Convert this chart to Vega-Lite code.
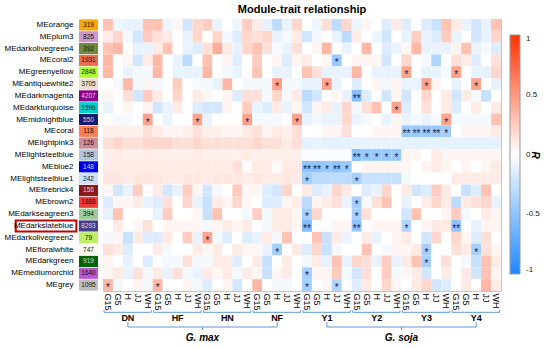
{
"$schema":"https://vega.github.io/schema/vega-lite/v6.json",
"padding":{"left":4,"top":3,"right":0,"bottom":0},
"config":{"font":"Liberation Sans","view":{"stroke":null}},
"datasets":{
"modules":[
{"m":"orange","n":"319"},{"m":"plum3","n":"825"},{"m":"darkolivegreen4","n":"392"},{"m":"coral2","n":"1931"},{"m":"greenyellow","n":"2848"},{"m":"antiquewhite2","n":"3705"},{"m":"darkmagenta","n":"4207"},{"m":"darkturquoise","n":"1596"},{"m":"midnightblue","n":"550"},{"m":"coral","n":"118"},{"m":"lightpink3","n":"126"},{"m":"lightsteelblue","n":"158"},{"m":"blue2","n":"148"},{"m":"lightsteelblue1","n":"242"},{"m":"firebrick4","n":"156"},{"m":"brown2","n":"1888"},{"m":"darkseagreen3","n":"394"},{"m":"darkslateblue","n":"8293"},{"m":"darkolivegreen2","n":"79"},{"m":"floralwhite","n":"747"},{"m":"darkgreen","n":"919"},{"m":"mediumorchid","n":"1640"},{"m":"grey","n":"1095"}],
"groups":[
{"g":"DN","first":"DN G15","mid":"DN H","last":"DN WH"},{"g":"HF","first":"HF G15","mid":"HF H","last":"HF WH"},{"g":"HN","first":"HN G15","mid":"HN H","last":"HN WH"},{"g":"NF","first":"NF G15","mid":"NF H","last":"NF WH"},{"g":"Y1","first":"Y1 G15","mid":"Y1 H","last":"Y1 WH"},{"g":"Y2","first":"Y2 G15","mid":"Y2 H","last":"Y2 WH"},{"g":"Y3","first":"Y3 G15","mid":"Y3 H","last":"Y3 WH"},{"g":"Y4","first":"Y4 G15","mid":"Y4 H","last":"Y4 WH"}],
"species":[{"sp":"G. max","first":"DN H","mid":"HN G15","last":"NF H"},{"sp":"G. soja","first":"Y1 H","mid":"Y3 G15","last":"Y4 H"}],
"cells":[
{"m":"orange","c":"DN G15","r":0.3},{"m":"orange","c":"DN G5","r":-0.08},{"m":"orange","c":"DN H","r":-0.1},{"m":"orange","c":"DN JJ","r":-0.1},{"m":"orange","c":"DN WH","r":0.3},
{"m":"orange","c":"HF G15","r":0.3},{"m":"orange","c":"HF G5","r":-0.08},{"m":"orange","c":"HF H","r":0.05},{"m":"orange","c":"HF JJ","r":-0.2},{"m":"orange","c":"HF WH","r":0.2},
{"m":"orange","c":"HN G15","r":0.25},{"m":"orange","c":"HN G5","r":-0.1},{"m":"orange","c":"HN H","r":0},{"m":"orange","c":"HN JJ","r":-0.08},{"m":"orange","c":"HN WH","r":0.25},
{"m":"orange","c":"NF G15","r":0.1},{"m":"orange","c":"NF G5","r":-0.1},{"m":"orange","c":"NF H","r":-0.3},{"m":"orange","c":"NF JJ","r":-0.1},{"m":"orange","c":"NF WH","r":0.2},
{"m":"orange","c":"Y1 G15","r":0},{"m":"orange","c":"Y1 G5","r":-0.08},{"m":"orange","c":"Y1 H","r":0.15},{"m":"orange","c":"Y1 JJ","r":-0.3},{"m":"orange","c":"Y1 WH","r":0.2},
{"m":"orange","c":"Y2 G15","r":-0.08},{"m":"orange","c":"Y2 G5","r":0.05},{"m":"orange","c":"Y2 H","r":0},{"m":"orange","c":"Y2 JJ","r":-0.15},{"m":"orange","c":"Y2 WH","r":0.1},
{"m":"orange","c":"Y3 G15","r":-0.15},{"m":"orange","c":"Y3 G5","r":0},{"m":"orange","c":"Y3 H","r":-0.15},{"m":"orange","c":"Y3 JJ","r":-0.25},{"m":"orange","c":"Y3 WH","r":0.3},
{"m":"orange","c":"Y4 G15","r":0.1},{"m":"orange","c":"Y4 G5","r":-0.1},{"m":"orange","c":"Y4 H","r":-0.2},{"m":"orange","c":"Y4 JJ","r":-0.1},{"m":"orange","c":"Y4 WH","r":0.3},
{"m":"plum3","c":"DN G15","r":0.1},{"m":"plum3","c":"DN G5","r":0.2},{"m":"plum3","c":"DN H","r":-0.05},{"m":"plum3","c":"DN JJ","r":-0.2},{"m":"plum3","c":"DN WH","r":0.25},
{"m":"plum3","c":"HF G15","r":0.15},{"m":"plum3","c":"HF G5","r":0.1},{"m":"plum3","c":"HF H","r":0},{"m":"plum3","c":"HF JJ","r":-0.1},{"m":"plum3","c":"HF WH","r":0.2},
{"m":"plum3","c":"HN G15","r":0},{"m":"plum3","c":"HN G5","r":0.2},{"m":"plum3","c":"HN H","r":-0.05},{"m":"plum3","c":"HN JJ","r":-0.15},{"m":"plum3","c":"HN WH","r":0.2},
{"m":"plum3","c":"NF G15","r":0.15},{"m":"plum3","c":"NF G5","r":0.2},{"m":"plum3","c":"NF H","r":-0.1},{"m":"plum3","c":"NF JJ","r":-0.05},{"m":"plum3","c":"NF WH","r":0.1},
{"m":"plum3","c":"Y1 G15","r":-0.2},{"m":"plum3","c":"Y1 G5","r":-0.05},{"m":"plum3","c":"Y1 H","r":0},{"m":"plum3","c":"Y1 JJ","r":-0.1},{"m":"plum3","c":"Y1 WH","r":-0.3},
{"m":"plum3","c":"Y2 G15","r":0.1},{"m":"plum3","c":"Y2 G5","r":0},{"m":"plum3","c":"Y2 H","r":-0.08},{"m":"plum3","c":"Y2 JJ","r":-0.2},{"m":"plum3","c":"Y2 WH","r":0},
{"m":"plum3","c":"Y3 G15","r":-0.1},{"m":"plum3","c":"Y3 G5","r":0.25},{"m":"plum3","c":"Y3 H","r":-0.1},{"m":"plum3","c":"Y3 JJ","r":-0.15},{"m":"plum3","c":"Y3 WH","r":0.25},
{"m":"plum3","c":"Y4 G15","r":-0.1},{"m":"plum3","c":"Y4 G5","r":0},{"m":"plum3","c":"Y4 H","r":-0.2},{"m":"plum3","c":"Y4 JJ","r":-0.1},{"m":"plum3","c":"Y4 WH","r":0.2},
{"m":"darkolivegreen4","c":"DN G15","r":0.3},{"m":"darkolivegreen4","c":"DN G5","r":0.35},{"m":"darkolivegreen4","c":"DN H","r":0},{"m":"darkolivegreen4","c":"DN JJ","r":-0.1},{"m":"darkolivegreen4","c":"DN WH","r":-0.1},
{"m":"darkolivegreen4","c":"HF G15","r":0.1},{"m":"darkolivegreen4","c":"HF G5","r":0.3},{"m":"darkolivegreen4","c":"HF H","r":0},{"m":"darkolivegreen4","c":"HF JJ","r":-0.1},{"m":"darkolivegreen4","c":"HF WH","r":-0.15},
{"m":"darkolivegreen4","c":"HN G15","r":0.15},{"m":"darkolivegreen4","c":"HN G5","r":0.4},{"m":"darkolivegreen4","c":"HN H","r":0.1},{"m":"darkolivegreen4","c":"HN JJ","r":-0.1},{"m":"darkolivegreen4","c":"HN WH","r":0.2},
{"m":"darkolivegreen4","c":"NF G15","r":0.3},{"m":"darkolivegreen4","c":"NF G5","r":0.15},{"m":"darkolivegreen4","c":"NF H","r":-0.05},{"m":"darkolivegreen4","c":"NF JJ","r":-0.1},{"m":"darkolivegreen4","c":"NF WH","r":0.15},
{"m":"darkolivegreen4","c":"Y1 G15","r":0},{"m":"darkolivegreen4","c":"Y1 G5","r":0.05},{"m":"darkolivegreen4","c":"Y1 H","r":0.35},{"m":"darkolivegreen4","c":"Y1 JJ","r":0},{"m":"darkolivegreen4","c":"Y1 WH","r":-0.1},
{"m":"darkolivegreen4","c":"Y2 G15","r":0},{"m":"darkolivegreen4","c":"Y2 G5","r":0.35},{"m":"darkolivegreen4","c":"Y2 H","r":0},{"m":"darkolivegreen4","c":"Y2 JJ","r":-0.15},{"m":"darkolivegreen4","c":"Y2 WH","r":-0.1},
{"m":"darkolivegreen4","c":"Y3 G15","r":0.05},{"m":"darkolivegreen4","c":"Y3 G5","r":0.35},{"m":"darkolivegreen4","c":"Y3 H","r":-0.1},{"m":"darkolivegreen4","c":"Y3 JJ","r":-0.1},{"m":"darkolivegreen4","c":"Y3 WH","r":-0.1},
{"m":"darkolivegreen4","c":"Y4 G15","r":0.05},{"m":"darkolivegreen4","c":"Y4 G5","r":0.3},{"m":"darkolivegreen4","c":"Y4 H","r":-0.1},{"m":"darkolivegreen4","c":"Y4 JJ","r":-0.05},{"m":"darkolivegreen4","c":"Y4 WH","r":-0.15},
{"m":"coral2","c":"DN G15","r":0.35},{"m":"coral2","c":"DN G5","r":0},{"m":"coral2","c":"DN H","r":0.05},{"m":"coral2","c":"DN JJ","r":-0.2},{"m":"coral2","c":"DN WH","r":0.1},
{"m":"coral2","c":"HF G15","r":0.35},{"m":"coral2","c":"HF G5","r":0},{"m":"coral2","c":"HF H","r":-0.1},{"m":"coral2","c":"HF JJ","r":-0.3},{"m":"coral2","c":"HF WH","r":0},
{"m":"coral2","c":"HN G15","r":0.3},{"m":"coral2","c":"HN G5","r":0},{"m":"coral2","c":"HN H","r":0.05},{"m":"coral2","c":"HN JJ","r":-0.15},{"m":"coral2","c":"HN WH","r":0},
{"m":"coral2","c":"NF G15","r":0.25},{"m":"coral2","c":"NF G5","r":0},{"m":"coral2","c":"NF H","r":0.05},{"m":"coral2","c":"NF JJ","r":-0.15},{"m":"coral2","c":"NF WH","r":0.05},
{"m":"coral2","c":"Y1 G15","r":0.1},{"m":"coral2","c":"Y1 G5","r":0},{"m":"coral2","c":"Y1 H","r":0.05},{"m":"coral2","c":"Y1 JJ","r":-0.45,"s":"*"},{"m":"coral2","c":"Y1 WH","r":0},
{"m":"coral2","c":"Y2 G15","r":0.05},{"m":"coral2","c":"Y2 G5","r":0.05},{"m":"coral2","c":"Y2 H","r":0.05},{"m":"coral2","c":"Y2 JJ","r":-0.2},{"m":"coral2","c":"Y2 WH","r":0},
{"m":"coral2","c":"Y3 G15","r":0.2},{"m":"coral2","c":"Y3 G5","r":0},{"m":"coral2","c":"Y3 H","r":-0.05},{"m":"coral2","c":"Y3 JJ","r":-0.35},{"m":"coral2","c":"Y3 WH","r":0},
{"m":"coral2","c":"Y4 G15","r":0.15},{"m":"coral2","c":"Y4 G5","r":0.1},{"m":"coral2","c":"Y4 H","r":-0.15},{"m":"coral2","c":"Y4 JJ","r":0},{"m":"coral2","c":"Y4 WH","r":0.15},
{"m":"greenyellow","c":"DN G15","r":0.35},{"m":"greenyellow","c":"DN G5","r":0},{"m":"greenyellow","c":"DN H","r":-0.1},{"m":"greenyellow","c":"DN JJ","r":-0.05},{"m":"greenyellow","c":"DN WH","r":-0.05},
{"m":"greenyellow","c":"HF G15","r":0.35},{"m":"greenyellow","c":"HF G5","r":0},{"m":"greenyellow","c":"HF H","r":-0.1},{"m":"greenyellow","c":"HF JJ","r":-0.1},{"m":"greenyellow","c":"HF WH","r":-0.1},
{"m":"greenyellow","c":"HN G15","r":0.35},{"m":"greenyellow","c":"HN G5","r":0},{"m":"greenyellow","c":"HN H","r":-0.05},{"m":"greenyellow","c":"HN JJ","r":-0.1},{"m":"greenyellow","c":"HN WH","r":0},
{"m":"greenyellow","c":"NF G15","r":0.3},{"m":"greenyellow","c":"NF G5","r":0},{"m":"greenyellow","c":"NF H","r":-0.1},{"m":"greenyellow","c":"NF JJ","r":-0.1},{"m":"greenyellow","c":"NF WH","r":0},
{"m":"greenyellow","c":"Y1 G15","r":0.3},{"m":"greenyellow","c":"Y1 G5","r":0.15},{"m":"greenyellow","c":"Y1 H","r":-0.1},{"m":"greenyellow","c":"Y1 JJ","r":-0.1},{"m":"greenyellow","c":"Y1 WH","r":-0.1},
{"m":"greenyellow","c":"Y2 G15","r":0.35},{"m":"greenyellow","c":"Y2 G5","r":0},{"m":"greenyellow","c":"Y2 H","r":-0.1},{"m":"greenyellow","c":"Y2 JJ","r":-0.1},{"m":"greenyellow","c":"Y2 WH","r":-0.1},
{"m":"greenyellow","c":"Y3 G15","r":0.45,"s":"*"},{"m":"greenyellow","c":"Y3 G5","r":0},{"m":"greenyellow","c":"Y3 H","r":-0.1},{"m":"greenyellow","c":"Y3 JJ","r":-0.1},{"m":"greenyellow","c":"Y3 WH","r":-0.05},
{"m":"greenyellow","c":"Y4 G15","r":0.45,"s":"*"},{"m":"greenyellow","c":"Y4 G5","r":0},{"m":"greenyellow","c":"Y4 H","r":-0.1},{"m":"greenyellow","c":"Y4 JJ","r":-0.1},{"m":"greenyellow","c":"Y4 WH","r":0.2},
{"m":"antiquewhite2","c":"DN G15","r":0},{"m":"antiquewhite2","c":"DN G5","r":-0.05},{"m":"antiquewhite2","c":"DN H","r":0.35},{"m":"antiquewhite2","c":"DN JJ","r":-0.05},{"m":"antiquewhite2","c":"DN WH","r":0.05},
{"m":"antiquewhite2","c":"HF G15","r":-0.05},{"m":"antiquewhite2","c":"HF G5","r":0},{"m":"antiquewhite2","c":"HF H","r":0.25},{"m":"antiquewhite2","c":"HF JJ","r":0},{"m":"antiquewhite2","c":"HF WH","r":-0.05},
{"m":"antiquewhite2","c":"HN G15","r":-0.05},{"m":"antiquewhite2","c":"HN G5","r":-0.1},{"m":"antiquewhite2","c":"HN H","r":0.35},{"m":"antiquewhite2","c":"HN JJ","r":0},{"m":"antiquewhite2","c":"HN WH","r":-0.05},
{"m":"antiquewhite2","c":"NF G15","r":-0.05},{"m":"antiquewhite2","c":"NF G5","r":-0.05},{"m":"antiquewhite2","c":"NF H","r":0.45,"s":"*"},{"m":"antiquewhite2","c":"NF JJ","r":-0.05},{"m":"antiquewhite2","c":"NF WH","r":-0.05},
{"m":"antiquewhite2","c":"Y1 G15","r":-0.1},{"m":"antiquewhite2","c":"Y1 G5","r":-0.1},{"m":"antiquewhite2","c":"Y1 H","r":0.45,"s":"*"},{"m":"antiquewhite2","c":"Y1 JJ","r":-0.1},{"m":"antiquewhite2","c":"Y1 WH","r":0},
{"m":"antiquewhite2","c":"Y2 G15","r":-0.15},{"m":"antiquewhite2","c":"Y2 G5","r":0},{"m":"antiquewhite2","c":"Y2 H","r":0.05},{"m":"antiquewhite2","c":"Y2 JJ","r":-0.05},{"m":"antiquewhite2","c":"Y2 WH","r":0.05},
{"m":"antiquewhite2","c":"Y3 G15","r":-0.1},{"m":"antiquewhite2","c":"Y3 G5","r":-0.1},{"m":"antiquewhite2","c":"Y3 H","r":0.45,"s":"*"},{"m":"antiquewhite2","c":"Y3 JJ","r":0.05},{"m":"antiquewhite2","c":"Y3 WH","r":0},
{"m":"antiquewhite2","c":"Y4 G15","r":-0.1},{"m":"antiquewhite2","c":"Y4 G5","r":0},{"m":"antiquewhite2","c":"Y4 H","r":0.45,"s":"*"},{"m":"antiquewhite2","c":"Y4 JJ","r":0},{"m":"antiquewhite2","c":"Y4 WH","r":-0.1},
{"m":"darkmagenta","c":"DN G15","r":0.05},{"m":"darkmagenta","c":"DN G5","r":0},{"m":"darkmagenta","c":"DN H","r":0.15},{"m":"darkmagenta","c":"DN JJ","r":-0.2},{"m":"darkmagenta","c":"DN WH","r":0.25},
{"m":"darkmagenta","c":"HF G15","r":0.1},{"m":"darkmagenta","c":"HF G5","r":0},{"m":"darkmagenta","c":"HF H","r":0.2},{"m":"darkmagenta","c":"HF JJ","r":0},{"m":"darkmagenta","c":"HF WH","r":0.1},
{"m":"darkmagenta","c":"HN G15","r":0.05},{"m":"darkmagenta","c":"HN G5","r":0},{"m":"darkmagenta","c":"HN H","r":0.05},{"m":"darkmagenta","c":"HN JJ","r":-0.15},{"m":"darkmagenta","c":"HN WH","r":0.15},
{"m":"darkmagenta","c":"NF G15","r":0.15},{"m":"darkmagenta","c":"NF G5","r":-0.05},{"m":"darkmagenta","c":"NF H","r":0.2},{"m":"darkmagenta","c":"NF JJ","r":-0.05},{"m":"darkmagenta","c":"NF WH","r":0.1},
{"m":"darkmagenta","c":"Y1 G15","r":-0.3},{"m":"darkmagenta","c":"Y1 G5","r":-0.2},{"m":"darkmagenta","c":"Y1 H","r":0},{"m":"darkmagenta","c":"Y1 JJ","r":0.05},{"m":"darkmagenta","c":"Y1 WH","r":-0.1},
{"m":"darkmagenta","c":"Y2 G15","r":-0.55,"s":"**"},{"m":"darkmagenta","c":"Y2 G5","r":-0.15},{"m":"darkmagenta","c":"Y2 H","r":0},{"m":"darkmagenta","c":"Y2 JJ","r":-0.2},{"m":"darkmagenta","c":"Y2 WH","r":0.05},
{"m":"darkmagenta","c":"Y3 G15","r":-0.2},{"m":"darkmagenta","c":"Y3 G5","r":0},{"m":"darkmagenta","c":"Y3 H","r":0.2},{"m":"darkmagenta","c":"Y3 JJ","r":0},{"m":"darkmagenta","c":"Y3 WH","r":0.1},
{"m":"darkmagenta","c":"Y4 G15","r":-0.2},{"m":"darkmagenta","c":"Y4 G5","r":0.1},{"m":"darkmagenta","c":"Y4 H","r":-0.05},{"m":"darkmagenta","c":"Y4 JJ","r":-0.25},{"m":"darkmagenta","c":"Y4 WH","r":0},
{"m":"darkturquoise","c":"DN G15","r":-0.1},{"m":"darkturquoise","c":"DN G5","r":0},{"m":"darkturquoise","c":"DN H","r":0.05},{"m":"darkturquoise","c":"DN JJ","r":0},{"m":"darkturquoise","c":"DN WH","r":0.05},
{"m":"darkturquoise","c":"HF G15","r":-0.2},{"m":"darkturquoise","c":"HF G5","r":-0.1},{"m":"darkturquoise","c":"HF H","r":0.1},{"m":"darkturquoise","c":"HF JJ","r":0},{"m":"darkturquoise","c":"HF WH","r":-0.15},
{"m":"darkturquoise","c":"HN G15","r":-0.2},{"m":"darkturquoise","c":"HN G5","r":-0.2},{"m":"darkturquoise","c":"HN H","r":0.05},{"m":"darkturquoise","c":"HN JJ","r":0},{"m":"darkturquoise","c":"HN WH","r":0.25},
{"m":"darkturquoise","c":"NF G15","r":-0.1},{"m":"darkturquoise","c":"NF G5","r":-0.15},{"m":"darkturquoise","c":"NF H","r":0.1},{"m":"darkturquoise","c":"NF JJ","r":-0.1},{"m":"darkturquoise","c":"NF WH","r":0.05},
{"m":"darkturquoise","c":"Y1 G15","r":-0.2},{"m":"darkturquoise","c":"Y1 G5","r":0.05},{"m":"darkturquoise","c":"Y1 H","r":0.1},{"m":"darkturquoise","c":"Y1 JJ","r":-0.1},{"m":"darkturquoise","c":"Y1 WH","r":0.2},
{"m":"darkturquoise","c":"Y2 G15","r":-0.05},{"m":"darkturquoise","c":"Y2 G5","r":0.15},{"m":"darkturquoise","c":"Y2 H","r":0.3},{"m":"darkturquoise","c":"Y2 JJ","r":0},{"m":"darkturquoise","c":"Y2 WH","r":0.45,"s":"*"},
{"m":"darkturquoise","c":"Y3 G15","r":-0.15},{"m":"darkturquoise","c":"Y3 G5","r":0},{"m":"darkturquoise","c":"Y3 H","r":0.15},{"m":"darkturquoise","c":"Y3 JJ","r":0},{"m":"darkturquoise","c":"Y3 WH","r":0.1},
{"m":"darkturquoise","c":"Y4 G15","r":-0.15},{"m":"darkturquoise","c":"Y4 G5","r":0},{"m":"darkturquoise","c":"Y4 H","r":0.1},{"m":"darkturquoise","c":"Y4 JJ","r":0},{"m":"darkturquoise","c":"Y4 WH","r":0.1},
{"m":"midnightblue","c":"DN G15","r":0},{"m":"midnightblue","c":"DN G5","r":-0.05},{"m":"midnightblue","c":"DN H","r":-0.05},{"m":"midnightblue","c":"DN JJ","r":0},{"m":"midnightblue","c":"DN WH","r":0.45,"s":"*"},
{"m":"midnightblue","c":"HF G15","r":0},{"m":"midnightblue","c":"HF G5","r":-0.1},{"m":"midnightblue","c":"HF H","r":0},{"m":"midnightblue","c":"HF JJ","r":0},{"m":"midnightblue","c":"HF WH","r":0.45,"s":"*"},
{"m":"midnightblue","c":"HN G15","r":-0.1},{"m":"midnightblue","c":"HN G5","r":0},{"m":"midnightblue","c":"HN H","r":0},{"m":"midnightblue","c":"HN JJ","r":0},{"m":"midnightblue","c":"HN WH","r":0.45,"s":"*"},
{"m":"midnightblue","c":"NF G15","r":-0.05},{"m":"midnightblue","c":"NF G5","r":-0.05},{"m":"midnightblue","c":"NF H","r":-0.05},{"m":"midnightblue","c":"NF JJ","r":0},{"m":"midnightblue","c":"NF WH","r":0.45,"s":"*"},
{"m":"midnightblue","c":"Y1 G15","r":-0.1},{"m":"midnightblue","c":"Y1 G5","r":-0.05},{"m":"midnightblue","c":"Y1 H","r":-0.1},{"m":"midnightblue","c":"Y1 JJ","r":-0.1},{"m":"midnightblue","c":"Y1 WH","r":0.2},
{"m":"midnightblue","c":"Y2 G15","r":-0.1},{"m":"midnightblue","c":"Y2 G5","r":-0.05},{"m":"midnightblue","c":"Y2 H","r":0},{"m":"midnightblue","c":"Y2 JJ","r":-0.1},{"m":"midnightblue","c":"Y2 WH","r":0.05},
{"m":"midnightblue","c":"Y3 G15","r":-0.1},{"m":"midnightblue","c":"Y3 G5","r":-0.05},{"m":"midnightblue","c":"Y3 H","r":-0.1},{"m":"midnightblue","c":"Y3 JJ","r":-0.05},{"m":"midnightblue","c":"Y3 WH","r":0.45,"s":"*"},
{"m":"midnightblue","c":"Y4 G15","r":-0.05},{"m":"midnightblue","c":"Y4 G5","r":-0.05},{"m":"midnightblue","c":"Y4 H","r":-0.05},{"m":"midnightblue","c":"Y4 JJ","r":-0.05},{"m":"midnightblue","c":"Y4 WH","r":0.3},
{"m":"coral","c":"DN G15","r":0.08},{"m":"coral","c":"DN G5","r":0.08},{"m":"coral","c":"DN H","r":0.08},{"m":"coral","c":"DN JJ","r":0.08},{"m":"coral","c":"DN WH","r":0.15},
{"m":"coral","c":"HF G15","r":0.1},{"m":"coral","c":"HF G5","r":0.05},{"m":"coral","c":"HF H","r":0.05},{"m":"coral","c":"HF JJ","r":0.08},{"m":"coral","c":"HF WH","r":0.15},
{"m":"coral","c":"HN G15","r":0.08},{"m":"coral","c":"HN G5","r":0.08},{"m":"coral","c":"HN H","r":0.05},{"m":"coral","c":"HN JJ","r":0.05},{"m":"coral","c":"HN WH","r":0.1},
{"m":"coral","c":"NF G15","r":0.15},{"m":"coral","c":"NF G5","r":0.05},{"m":"coral","c":"NF H","r":0.1},{"m":"coral","c":"NF JJ","r":0.08},{"m":"coral","c":"NF WH","r":0.15},
{"m":"coral","c":"Y1 G15","r":0},{"m":"coral","c":"Y1 G5","r":0},{"m":"coral","c":"Y1 H","r":0.05},{"m":"coral","c":"Y1 JJ","r":0.05},{"m":"coral","c":"Y1 WH","r":0.15},
{"m":"coral","c":"Y2 G15","r":0},{"m":"coral","c":"Y2 G5","r":0},{"m":"coral","c":"Y2 H","r":0.05},{"m":"coral","c":"Y2 JJ","r":0.05},{"m":"coral","c":"Y2 WH","r":0.05},
{"m":"coral","c":"Y3 G15","r":-0.45,"s":"**"},{"m":"coral","c":"Y3 G5","r":-0.45,"s":"**"},{"m":"coral","c":"Y3 H","r":-0.45,"s":"**"},{"m":"coral","c":"Y3 JJ","r":-0.45,"s":"**"},{"m":"coral","c":"Y3 WH","r":-0.4,"s":"*"},
{"m":"coral","c":"Y4 G15","r":0},{"m":"coral","c":"Y4 G5","r":0.05},{"m":"coral","c":"Y4 H","r":0.05},{"m":"coral","c":"Y4 JJ","r":0.05},{"m":"coral","c":"Y4 WH","r":0.1},
{"m":"lightpink3","c":"DN G15","r":0.15},{"m":"lightpink3","c":"DN G5","r":0.2},{"m":"lightpink3","c":"DN H","r":0.15},{"m":"lightpink3","c":"DN JJ","r":0.15},{"m":"lightpink3","c":"DN WH","r":0.2},
{"m":"lightpink3","c":"HF G15","r":0.2},{"m":"lightpink3","c":"HF G5","r":0.2},{"m":"lightpink3","c":"HF H","r":0.15},{"m":"lightpink3","c":"HF JJ","r":0.15},{"m":"lightpink3","c":"HF WH","r":0.2},
{"m":"lightpink3","c":"HN G15","r":0.15},{"m":"lightpink3","c":"HN G5","r":0.15},{"m":"lightpink3","c":"HN H","r":0.15},{"m":"lightpink3","c":"HN JJ","r":0.15},{"m":"lightpink3","c":"HN WH","r":0.15},
{"m":"lightpink3","c":"NF G15","r":0.2},{"m":"lightpink3","c":"NF G5","r":0.15},{"m":"lightpink3","c":"NF H","r":0.15},{"m":"lightpink3","c":"NF JJ","r":0.1},{"m":"lightpink3","c":"NF WH","r":0.15},
{"m":"lightpink3","c":"Y1 G15","r":-0.12},{"m":"lightpink3","c":"Y1 G5","r":-0.1},{"m":"lightpink3","c":"Y1 H","r":-0.12},{"m":"lightpink3","c":"Y1 JJ","r":-0.12},{"m":"lightpink3","c":"Y1 WH","r":-0.12},
{"m":"lightpink3","c":"Y2 G15","r":-0.1},{"m":"lightpink3","c":"Y2 G5","r":-0.1},{"m":"lightpink3","c":"Y2 H","r":-0.1},{"m":"lightpink3","c":"Y2 JJ","r":-0.1},{"m":"lightpink3","c":"Y2 WH","r":-0.1},
{"m":"lightpink3","c":"Y3 G15","r":-0.12},{"m":"lightpink3","c":"Y3 G5","r":-0.12},{"m":"lightpink3","c":"Y3 H","r":-0.12},{"m":"lightpink3","c":"Y3 JJ","r":-0.12},{"m":"lightpink3","c":"Y3 WH","r":-0.12},
{"m":"lightpink3","c":"Y4 G15","r":-0.12},{"m":"lightpink3","c":"Y4 G5","r":-0.12},{"m":"lightpink3","c":"Y4 H","r":-0.12},{"m":"lightpink3","c":"Y4 JJ","r":-0.12},{"m":"lightpink3","c":"Y4 WH","r":-0.12},
{"m":"lightsteelblue","c":"DN G15","r":0.08},{"m":"lightsteelblue","c":"DN G5","r":0.1},{"m":"lightsteelblue","c":"DN H","r":0.08},{"m":"lightsteelblue","c":"DN JJ","r":0.08},{"m":"lightsteelblue","c":"DN WH","r":0.1},
{"m":"lightsteelblue","c":"HF G15","r":0.08},{"m":"lightsteelblue","c":"HF G5","r":0.08},{"m":"lightsteelblue","c":"HF H","r":0.08},{"m":"lightsteelblue","c":"HF JJ","r":0.08},{"m":"lightsteelblue","c":"HF WH","r":0.1},
{"m":"lightsteelblue","c":"HN G15","r":0.08},{"m":"lightsteelblue","c":"HN G5","r":0.08},{"m":"lightsteelblue","c":"HN H","r":0.08},{"m":"lightsteelblue","c":"HN JJ","r":0.08},{"m":"lightsteelblue","c":"HN WH","r":0.1},
{"m":"lightsteelblue","c":"NF G15","r":0.08},{"m":"lightsteelblue","c":"NF G5","r":0.08},{"m":"lightsteelblue","c":"NF H","r":0.08},{"m":"lightsteelblue","c":"NF JJ","r":0.08},{"m":"lightsteelblue","c":"NF WH","r":0.08},
{"m":"lightsteelblue","c":"Y1 G15","r":-0.03},{"m":"lightsteelblue","c":"Y1 G5","r":-0.03},{"m":"lightsteelblue","c":"Y1 H","r":-0.03},{"m":"lightsteelblue","c":"Y1 JJ","r":-0.03},{"m":"lightsteelblue","c":"Y1 WH","r":-0.03},
{"m":"lightsteelblue","c":"Y2 G15","r":-0.5,"s":"**"},{"m":"lightsteelblue","c":"Y2 G5","r":-0.45,"s":"*"},{"m":"lightsteelblue","c":"Y2 H","r":-0.45,"s":"*"},{"m":"lightsteelblue","c":"Y2 JJ","r":-0.45,"s":"*"},{"m":"lightsteelblue","c":"Y2 WH","r":-0.45,"s":"*"},
{"m":"lightsteelblue","c":"Y3 G15","r":0.05},{"m":"lightsteelblue","c":"Y3 G5","r":0.05},{"m":"lightsteelblue","c":"Y3 H","r":0},{"m":"lightsteelblue","c":"Y3 JJ","r":0.1},{"m":"lightsteelblue","c":"Y3 WH","r":0.05},
{"m":"lightsteelblue","c":"Y4 G15","r":0.05},{"m":"lightsteelblue","c":"Y4 G5","r":0.05},{"m":"lightsteelblue","c":"Y4 H","r":0.05},{"m":"lightsteelblue","c":"Y4 JJ","r":0.05},{"m":"lightsteelblue","c":"Y4 WH","r":0.05},
{"m":"blue2","c":"DN G15","r":0.1},{"m":"blue2","c":"DN G5","r":0.1},{"m":"blue2","c":"DN H","r":0.1},{"m":"blue2","c":"DN JJ","r":0.1},{"m":"blue2","c":"DN WH","r":0.1},
{"m":"blue2","c":"HF G15","r":0.1},{"m":"blue2","c":"HF G5","r":0.1},{"m":"blue2","c":"HF H","r":0.1},{"m":"blue2","c":"HF JJ","r":0.1},{"m":"blue2","c":"HF WH","r":0.1},
{"m":"blue2","c":"HN G15","r":0.1},{"m":"blue2","c":"HN G5","r":0.1},{"m":"blue2","c":"HN H","r":0.1},{"m":"blue2","c":"HN JJ","r":0.15},{"m":"blue2","c":"HN WH","r":0.02},
{"m":"blue2","c":"NF G15","r":0.1},{"m":"blue2","c":"NF G5","r":0.1},{"m":"blue2","c":"NF H","r":0.02},{"m":"blue2","c":"NF JJ","r":0.1},{"m":"blue2","c":"NF WH","r":0.1},
{"m":"blue2","c":"Y1 G15","r":-0.5,"s":"**"},{"m":"blue2","c":"Y1 G5","r":-0.5,"s":"**"},{"m":"blue2","c":"Y1 H","r":-0.45,"s":"*"},{"m":"blue2","c":"Y1 JJ","r":-0.5,"s":"**"},{"m":"blue2","c":"Y1 WH","r":-0.45,"s":"*"},
{"m":"blue2","c":"Y2 G15","r":0},{"m":"blue2","c":"Y2 G5","r":0.05},{"m":"blue2","c":"Y2 H","r":0.05},{"m":"blue2","c":"Y2 JJ","r":0.05},{"m":"blue2","c":"Y2 WH","r":0.05},
{"m":"blue2","c":"Y3 G15","r":0.05},{"m":"blue2","c":"Y3 G5","r":0},{"m":"blue2","c":"Y3 H","r":0.05},{"m":"blue2","c":"Y3 JJ","r":0.1},{"m":"blue2","c":"Y3 WH","r":0.05},
{"m":"blue2","c":"Y4 G15","r":0},{"m":"blue2","c":"Y4 G5","r":0.05},{"m":"blue2","c":"Y4 H","r":0},{"m":"blue2","c":"Y4 JJ","r":0.05},{"m":"blue2","c":"Y4 WH","r":0.1},
{"m":"lightsteelblue1","c":"DN G15","r":0.12},{"m":"lightsteelblue1","c":"DN G5","r":0.12},{"m":"lightsteelblue1","c":"DN H","r":0.1},{"m":"lightsteelblue1","c":"DN JJ","r":0.12},{"m":"lightsteelblue1","c":"DN WH","r":0.12},
{"m":"lightsteelblue1","c":"HF G15","r":0.12},{"m":"lightsteelblue1","c":"HF G5","r":0.1},{"m":"lightsteelblue1","c":"HF H","r":0.1},{"m":"lightsteelblue1","c":"HF JJ","r":0.12},{"m":"lightsteelblue1","c":"HF WH","r":0.12},
{"m":"lightsteelblue1","c":"HN G15","r":0.1},{"m":"lightsteelblue1","c":"HN G5","r":0.12},{"m":"lightsteelblue1","c":"HN H","r":0.12},{"m":"lightsteelblue1","c":"HN JJ","r":0.12},{"m":"lightsteelblue1","c":"HN WH","r":0.1},
{"m":"lightsteelblue1","c":"NF G15","r":0.12},{"m":"lightsteelblue1","c":"NF G5","r":0.1},{"m":"lightsteelblue1","c":"NF H","r":0.1},{"m":"lightsteelblue1","c":"NF JJ","r":0.12},{"m":"lightsteelblue1","c":"NF WH","r":0.1},
{"m":"lightsteelblue1","c":"Y1 G15","r":-0.4,"s":"*"},{"m":"lightsteelblue1","c":"Y1 G5","r":-0.3},{"m":"lightsteelblue1","c":"Y1 H","r":-0.3},{"m":"lightsteelblue1","c":"Y1 JJ","r":-0.3},{"m":"lightsteelblue1","c":"Y1 WH","r":-0.3},
{"m":"lightsteelblue1","c":"Y2 G15","r":-0.4,"s":"*"},{"m":"lightsteelblue1","c":"Y2 G5","r":-0.25},{"m":"lightsteelblue1","c":"Y2 H","r":-0.25},{"m":"lightsteelblue1","c":"Y2 JJ","r":-0.25},{"m":"lightsteelblue1","c":"Y2 WH","r":-0.25},
{"m":"lightsteelblue1","c":"Y3 G15","r":-0.05},{"m":"lightsteelblue1","c":"Y3 G5","r":0},{"m":"lightsteelblue1","c":"Y3 H","r":0},{"m":"lightsteelblue1","c":"Y3 JJ","r":0},{"m":"lightsteelblue1","c":"Y3 WH","r":0},
{"m":"lightsteelblue1","c":"Y4 G15","r":0.1},{"m":"lightsteelblue1","c":"Y4 G5","r":0.1},{"m":"lightsteelblue1","c":"Y4 H","r":0.1},{"m":"lightsteelblue1","c":"Y4 JJ","r":0.1},{"m":"lightsteelblue1","c":"Y4 WH","r":0.1},
{"m":"firebrick4","c":"DN G15","r":0.05},{"m":"firebrick4","c":"DN G5","r":-0.2},{"m":"firebrick4","c":"DN H","r":-0.1},{"m":"firebrick4","c":"DN JJ","r":0.25},{"m":"firebrick4","c":"DN WH","r":0},
{"m":"firebrick4","c":"HF G15","r":0.1},{"m":"firebrick4","c":"HF G5","r":-0.2},{"m":"firebrick4","c":"HF H","r":-0.1},{"m":"firebrick4","c":"HF JJ","r":0.25},{"m":"firebrick4","c":"HF WH","r":0.05},
{"m":"firebrick4","c":"HN G15","r":-0.2},{"m":"firebrick4","c":"HN G5","r":-0.05},{"m":"firebrick4","c":"HN H","r":0},{"m":"firebrick4","c":"HN JJ","r":0.25},{"m":"firebrick4","c":"HN WH","r":0.05},
{"m":"firebrick4","c":"NF G15","r":0.05},{"m":"firebrick4","c":"NF G5","r":-0.15},{"m":"firebrick4","c":"NF H","r":-0.2},{"m":"firebrick4","c":"NF JJ","r":0.2},{"m":"firebrick4","c":"NF WH","r":0},
{"m":"firebrick4","c":"Y1 G15","r":0.1},{"m":"firebrick4","c":"Y1 G5","r":-0.15},{"m":"firebrick4","c":"Y1 H","r":-0.1},{"m":"firebrick4","c":"Y1 JJ","r":0.2},{"m":"firebrick4","c":"Y1 WH","r":0.1},
{"m":"firebrick4","c":"Y2 G15","r":0},{"m":"firebrick4","c":"Y2 G5","r":-0.15},{"m":"firebrick4","c":"Y2 H","r":-0.1},{"m":"firebrick4","c":"Y2 JJ","r":0.2},{"m":"firebrick4","c":"Y2 WH","r":0},
{"m":"firebrick4","c":"Y3 G15","r":0.1},{"m":"firebrick4","c":"Y3 G5","r":-0.2},{"m":"firebrick4","c":"Y3 H","r":-0.15},{"m":"firebrick4","c":"Y3 JJ","r":0.25},{"m":"firebrick4","c":"Y3 WH","r":0.1},
{"m":"firebrick4","c":"Y4 G15","r":0},{"m":"firebrick4","c":"Y4 G5","r":-0.25},{"m":"firebrick4","c":"Y4 H","r":-0.15},{"m":"firebrick4","c":"Y4 JJ","r":0.3},{"m":"firebrick4","c":"Y4 WH","r":0},
{"m":"brown2","c":"DN G15","r":-0.15},{"m":"brown2","c":"DN G5","r":0.05},{"m":"brown2","c":"DN H","r":0.05},{"m":"brown2","c":"DN JJ","r":0.1},{"m":"brown2","c":"DN WH","r":-0.1},
{"m":"brown2","c":"HF G15","r":-0.15},{"m":"brown2","c":"HF G5","r":0.15},{"m":"brown2","c":"HF H","r":0},{"m":"brown2","c":"HF JJ","r":0.2},{"m":"brown2","c":"HF WH","r":-0.1},
{"m":"brown2","c":"HN G15","r":-0.25},{"m":"brown2","c":"HN G5","r":0.1},{"m":"brown2","c":"HN H","r":0.05},{"m":"brown2","c":"HN JJ","r":0.2},{"m":"brown2","c":"HN WH","r":0.05},
{"m":"brown2","c":"NF G15","r":0},{"m":"brown2","c":"NF G5","r":-0.15},{"m":"brown2","c":"NF H","r":-0.15},{"m":"brown2","c":"NF JJ","r":0.05},{"m":"brown2","c":"NF WH","r":0.1},
{"m":"brown2","c":"Y1 G15","r":-0.3},{"m":"brown2","c":"Y1 G5","r":0.05},{"m":"brown2","c":"Y1 H","r":0.1},{"m":"brown2","c":"Y1 JJ","r":0.15},{"m":"brown2","c":"Y1 WH","r":-0.1},
{"m":"brown2","c":"Y2 G15","r":-0.4,"s":"*"},{"m":"brown2","c":"Y2 G5","r":-0.05},{"m":"brown2","c":"Y2 H","r":0.15},{"m":"brown2","c":"Y2 JJ","r":0.3},{"m":"brown2","c":"Y2 WH","r":0},
{"m":"brown2","c":"Y3 G15","r":-0.1},{"m":"brown2","c":"Y3 G5","r":0},{"m":"brown2","c":"Y3 H","r":0.1},{"m":"brown2","c":"Y3 JJ","r":0.2},{"m":"brown2","c":"Y3 WH","r":0.1},
{"m":"brown2","c":"Y4 G15","r":-0.3},{"m":"brown2","c":"Y4 G5","r":0.1},{"m":"brown2","c":"Y4 H","r":0.15},{"m":"brown2","c":"Y4 JJ","r":0.2},{"m":"brown2","c":"Y4 WH","r":-0.1},
{"m":"darkseagreen3","c":"DN G15","r":-0.1},{"m":"darkseagreen3","c":"DN G5","r":0.3},{"m":"darkseagreen3","c":"DN H","r":0},{"m":"darkseagreen3","c":"DN JJ","r":0},{"m":"darkseagreen3","c":"DN WH","r":0},
{"m":"darkseagreen3","c":"HF G15","r":-0.1},{"m":"darkseagreen3","c":"HF G5","r":0.25},{"m":"darkseagreen3","c":"HF H","r":0},{"m":"darkseagreen3","c":"HF JJ","r":0},{"m":"darkseagreen3","c":"HF WH","r":0.05},
{"m":"darkseagreen3","c":"HN G15","r":-0.25},{"m":"darkseagreen3","c":"HN G5","r":0.3},{"m":"darkseagreen3","c":"HN H","r":0},{"m":"darkseagreen3","c":"HN JJ","r":0},{"m":"darkseagreen3","c":"HN WH","r":-0.05},
{"m":"darkseagreen3","c":"NF G15","r":0.25},{"m":"darkseagreen3","c":"NF G5","r":-0.05},{"m":"darkseagreen3","c":"NF H","r":0.1},{"m":"darkseagreen3","c":"NF JJ","r":0.1},{"m":"darkseagreen3","c":"NF WH","r":0.05},
{"m":"darkseagreen3","c":"Y1 G15","r":-0.4,"s":"*"},{"m":"darkseagreen3","c":"Y1 G5","r":0.2},{"m":"darkseagreen3","c":"Y1 H","r":0},{"m":"darkseagreen3","c":"Y1 JJ","r":0},{"m":"darkseagreen3","c":"Y1 WH","r":0},
{"m":"darkseagreen3","c":"Y2 G15","r":-0.4,"s":"*"},{"m":"darkseagreen3","c":"Y2 G5","r":0.15},{"m":"darkseagreen3","c":"Y2 H","r":0},{"m":"darkseagreen3","c":"Y2 JJ","r":0},{"m":"darkseagreen3","c":"Y2 WH","r":0},
{"m":"darkseagreen3","c":"Y3 G15","r":-0.2},{"m":"darkseagreen3","c":"Y3 G5","r":0.3},{"m":"darkseagreen3","c":"Y3 H","r":0},{"m":"darkseagreen3","c":"Y3 JJ","r":0},{"m":"darkseagreen3","c":"Y3 WH","r":0.05},
{"m":"darkseagreen3","c":"Y4 G15","r":0.25},{"m":"darkseagreen3","c":"Y4 G5","r":-0.05},{"m":"darkseagreen3","c":"Y4 H","r":0},{"m":"darkseagreen3","c":"Y4 JJ","r":0.1},{"m":"darkseagreen3","c":"Y4 WH","r":0.05},
{"m":"darkslateblue","c":"DN G15","r":0},{"m":"darkslateblue","c":"DN G5","r":0.1},{"m":"darkslateblue","c":"DN H","r":0},{"m":"darkslateblue","c":"DN JJ","r":0.05},{"m":"darkslateblue","c":"DN WH","r":0.15},
{"m":"darkslateblue","c":"HF G15","r":0},{"m":"darkslateblue","c":"HF G5","r":0.05},{"m":"darkslateblue","c":"HF H","r":0.05},{"m":"darkslateblue","c":"HF JJ","r":0.05},{"m":"darkslateblue","c":"HF WH","r":0.05},
{"m":"darkslateblue","c":"HN G15","r":-0.05},{"m":"darkslateblue","c":"HN G5","r":0.05},{"m":"darkslateblue","c":"HN H","r":0.1},{"m":"darkslateblue","c":"HN JJ","r":0.05},{"m":"darkslateblue","c":"HN WH","r":0.1},
{"m":"darkslateblue","c":"NF G15","r":0},{"m":"darkslateblue","c":"NF G5","r":-0.05},{"m":"darkslateblue","c":"NF H","r":0.1},{"m":"darkslateblue","c":"NF JJ","r":0.1},{"m":"darkslateblue","c":"NF WH","r":0.05},
{"m":"darkslateblue","c":"Y1 G15","r":-0.55,"s":"**"},{"m":"darkslateblue","c":"Y1 G5","r":0},{"m":"darkslateblue","c":"Y1 H","r":0},{"m":"darkslateblue","c":"Y1 JJ","r":0.05},{"m":"darkslateblue","c":"Y1 WH","r":0.05},
{"m":"darkslateblue","c":"Y2 G15","r":-0.5,"s":"**"},{"m":"darkslateblue","c":"Y2 G5","r":0},{"m":"darkslateblue","c":"Y2 H","r":0.05},{"m":"darkslateblue","c":"Y2 JJ","r":0.05},{"m":"darkslateblue","c":"Y2 WH","r":0.05},
{"m":"darkslateblue","c":"Y3 G15","r":-0.35,"s":"*"},{"m":"darkslateblue","c":"Y3 G5","r":0},{"m":"darkslateblue","c":"Y3 H","r":0.05},{"m":"darkslateblue","c":"Y3 JJ","r":0.1},{"m":"darkslateblue","c":"Y3 WH","r":0.1},
{"m":"darkslateblue","c":"Y4 G15","r":-0.5,"s":"**"},{"m":"darkslateblue","c":"Y4 G5","r":0},{"m":"darkslateblue","c":"Y4 H","r":-0.1},{"m":"darkslateblue","c":"Y4 JJ","r":0.05},{"m":"darkslateblue","c":"Y4 WH","r":0.05},
{"m":"darkolivegreen2","c":"DN G15","r":-0.05},{"m":"darkolivegreen2","c":"DN G5","r":0.05},{"m":"darkolivegreen2","c":"DN H","r":-0.25},{"m":"darkolivegreen2","c":"DN JJ","r":0.1},{"m":"darkolivegreen2","c":"DN WH","r":-0.15},
{"m":"darkolivegreen2","c":"HF G15","r":-0.15},{"m":"darkolivegreen2","c":"HF G5","r":0.1},{"m":"darkolivegreen2","c":"HF H","r":0},{"m":"darkolivegreen2","c":"HF JJ","r":0.25},{"m":"darkolivegreen2","c":"HF WH","r":-0.1},
{"m":"darkolivegreen2","c":"HN G15","r":0.45,"s":"*"},{"m":"darkolivegreen2","c":"HN G5","r":-0.05},{"m":"darkolivegreen2","c":"HN H","r":-0.15},{"m":"darkolivegreen2","c":"HN JJ","r":0},{"m":"darkolivegreen2","c":"HN WH","r":-0.15},
{"m":"darkolivegreen2","c":"NF G15","r":-0.1},{"m":"darkolivegreen2","c":"NF G5","r":0.1},{"m":"darkolivegreen2","c":"NF H","r":-0.05},{"m":"darkolivegreen2","c":"NF JJ","r":0.3},{"m":"darkolivegreen2","c":"NF WH","r":0},
{"m":"darkolivegreen2","c":"Y1 G15","r":0},{"m":"darkolivegreen2","c":"Y1 G5","r":0.3},{"m":"darkolivegreen2","c":"Y1 H","r":-0.25},{"m":"darkolivegreen2","c":"Y1 JJ","r":0.1},{"m":"darkolivegreen2","c":"Y1 WH","r":-0.1},
{"m":"darkolivegreen2","c":"Y2 G15","r":0},{"m":"darkolivegreen2","c":"Y2 G5","r":0.1},{"m":"darkolivegreen2","c":"Y2 H","r":-0.1},{"m":"darkolivegreen2","c":"Y2 JJ","r":0},{"m":"darkolivegreen2","c":"Y2 WH","r":0.05},
{"m":"darkolivegreen2","c":"Y3 G15","r":0.1},{"m":"darkolivegreen2","c":"Y3 G5","r":0},{"m":"darkolivegreen2","c":"Y3 H","r":-0.2},{"m":"darkolivegreen2","c":"Y3 JJ","r":0.2},{"m":"darkolivegreen2","c":"Y3 WH","r":0},
{"m":"darkolivegreen2","c":"Y4 G15","r":0.2},{"m":"darkolivegreen2","c":"Y4 G5","r":0.05},{"m":"darkolivegreen2","c":"Y4 H","r":-0.15},{"m":"darkolivegreen2","c":"Y4 JJ","r":0.15},{"m":"darkolivegreen2","c":"Y4 WH","r":0},
{"m":"floralwhite","c":"DN G15","r":0.15},{"m":"floralwhite","c":"DN G5","r":0.1},{"m":"floralwhite","c":"DN H","r":-0.15},{"m":"floralwhite","c":"DN JJ","r":0},{"m":"floralwhite","c":"DN WH","r":0},
{"m":"floralwhite","c":"HF G15","r":0.1},{"m":"floralwhite","c":"HF G5","r":-0.05},{"m":"floralwhite","c":"HF H","r":0},{"m":"floralwhite","c":"HF JJ","r":0},{"m":"floralwhite","c":"HF WH","r":0.1},
{"m":"floralwhite","c":"HN G15","r":0.05},{"m":"floralwhite","c":"HN G5","r":0.1},{"m":"floralwhite","c":"HN H","r":0},{"m":"floralwhite","c":"HN JJ","r":0.1},{"m":"floralwhite","c":"HN WH","r":0.05},
{"m":"floralwhite","c":"NF G15","r":0.05},{"m":"floralwhite","c":"NF G5","r":-0.1},{"m":"floralwhite","c":"NF H","r":-0.4,"s":"*"},{"m":"floralwhite","c":"NF JJ","r":0},{"m":"floralwhite","c":"NF WH","r":0.1},
{"m":"floralwhite","c":"Y1 G15","r":-0.15},{"m":"floralwhite","c":"Y1 G5","r":0.2},{"m":"floralwhite","c":"Y1 H","r":-0.25},{"m":"floralwhite","c":"Y1 JJ","r":-0.05},{"m":"floralwhite","c":"Y1 WH","r":0},
{"m":"floralwhite","c":"Y2 G15","r":0},{"m":"floralwhite","c":"Y2 G5","r":0.3},{"m":"floralwhite","c":"Y2 H","r":0},{"m":"floralwhite","c":"Y2 JJ","r":-0.05},{"m":"floralwhite","c":"Y2 WH","r":0.05},
{"m":"floralwhite","c":"Y3 G15","r":0.05},{"m":"floralwhite","c":"Y3 G5","r":0.1},{"m":"floralwhite","c":"Y3 H","r":-0.4,"s":"*"},{"m":"floralwhite","c":"Y3 JJ","r":0},{"m":"floralwhite","c":"Y3 WH","r":0},
{"m":"floralwhite","c":"Y4 G15","r":0.15},{"m":"floralwhite","c":"Y4 G5","r":0.1},{"m":"floralwhite","c":"Y4 H","r":-0.4,"s":"*"},{"m":"floralwhite","c":"Y4 JJ","r":0.15},{"m":"floralwhite","c":"Y4 WH","r":0.05},
{"m":"darkgreen","c":"DN G15","r":0.05},{"m":"darkgreen","c":"DN G5","r":0},{"m":"darkgreen","c":"DN H","r":-0.1},{"m":"darkgreen","c":"DN JJ","r":0},{"m":"darkgreen","c":"DN WH","r":-0.15},
{"m":"darkgreen","c":"HF G15","r":0},{"m":"darkgreen","c":"HF G5","r":-0.05},{"m":"darkgreen","c":"HF H","r":-0.05},{"m":"darkgreen","c":"HF JJ","r":0.15},{"m":"darkgreen","c":"HF WH","r":-0.05},
{"m":"darkgreen","c":"HN G15","r":-0.05},{"m":"darkgreen","c":"HN G5","r":0.1},{"m":"darkgreen","c":"HN H","r":0.1},{"m":"darkgreen","c":"HN JJ","r":-0.15},{"m":"darkgreen","c":"HN WH","r":0},
{"m":"darkgreen","c":"NF G15","r":0.1},{"m":"darkgreen","c":"NF G5","r":-0.25},{"m":"darkgreen","c":"NF H","r":0},{"m":"darkgreen","c":"NF JJ","r":0.1},{"m":"darkgreen","c":"NF WH","r":0},
{"m":"darkgreen","c":"Y1 G15","r":-0.05},{"m":"darkgreen","c":"Y1 G5","r":0.1},{"m":"darkgreen","c":"Y1 H","r":-0.1},{"m":"darkgreen","c":"Y1 JJ","r":0.3},{"m":"darkgreen","c":"Y1 WH","r":-0.1},
{"m":"darkgreen","c":"Y2 G15","r":0.2},{"m":"darkgreen","c":"Y2 G5","r":0.15},{"m":"darkgreen","c":"Y2 H","r":-0.1},{"m":"darkgreen","c":"Y2 JJ","r":0.25},{"m":"darkgreen","c":"Y2 WH","r":-0.1},
{"m":"darkgreen","c":"Y3 G15","r":0.1},{"m":"darkgreen","c":"Y3 G5","r":0.3},{"m":"darkgreen","c":"Y3 H","r":-0.4,"s":"*"},{"m":"darkgreen","c":"Y3 JJ","r":0},{"m":"darkgreen","c":"Y3 WH","r":0.15},
{"m":"darkgreen","c":"Y4 G15","r":0},{"m":"darkgreen","c":"Y4 G5","r":-0.05},{"m":"darkgreen","c":"Y4 H","r":-0.25},{"m":"darkgreen","c":"Y4 JJ","r":0.3},{"m":"darkgreen","c":"Y4 WH","r":0.1},
{"m":"mediumorchid","c":"DN G15","r":0.05},{"m":"mediumorchid","c":"DN G5","r":0.1},{"m":"mediumorchid","c":"DN H","r":-0.1},{"m":"mediumorchid","c":"DN JJ","r":0.15},{"m":"mediumorchid","c":"DN WH","r":-0.05},
{"m":"mediumorchid","c":"HF G15","r":0.1},{"m":"mediumorchid","c":"HF G5","r":-0.1},{"m":"mediumorchid","c":"HF H","r":0.15},{"m":"mediumorchid","c":"HF JJ","r":-0.05},{"m":"mediumorchid","c":"HF WH","r":-0.1},
{"m":"mediumorchid","c":"HN G15","r":0.1},{"m":"mediumorchid","c":"HN G5","r":0.05},{"m":"mediumorchid","c":"HN H","r":0.1},{"m":"mediumorchid","c":"HN JJ","r":-0.05},{"m":"mediumorchid","c":"HN WH","r":0.1},
{"m":"mediumorchid","c":"NF G15","r":0.05},{"m":"mediumorchid","c":"NF G5","r":-0.25},{"m":"mediumorchid","c":"NF H","r":0.05},{"m":"mediumorchid","c":"NF JJ","r":0.1},{"m":"mediumorchid","c":"NF WH","r":0},
{"m":"mediumorchid","c":"Y1 G15","r":-0.4,"s":"*"},{"m":"mediumorchid","c":"Y1 G5","r":0.05},{"m":"mediumorchid","c":"Y1 H","r":0.05},{"m":"mediumorchid","c":"Y1 JJ","r":0.25},{"m":"mediumorchid","c":"Y1 WH","r":-0.05},
{"m":"mediumorchid","c":"Y2 G15","r":-0.2},{"m":"mediumorchid","c":"Y2 G5","r":0.15},{"m":"mediumorchid","c":"Y2 H","r":0},{"m":"mediumorchid","c":"Y2 JJ","r":0.25},{"m":"mediumorchid","c":"Y2 WH","r":-0.05},
{"m":"mediumorchid","c":"Y3 G15","r":0.05},{"m":"mediumorchid","c":"Y3 G5","r":0.1},{"m":"mediumorchid","c":"Y3 H","r":-0.2},{"m":"mediumorchid","c":"Y3 JJ","r":0},{"m":"mediumorchid","c":"Y3 WH","r":0.1},
{"m":"mediumorchid","c":"Y4 G15","r":0},{"m":"mediumorchid","c":"Y4 G5","r":0.1},{"m":"mediumorchid","c":"Y4 H","r":-0.2},{"m":"mediumorchid","c":"Y4 JJ","r":0.3},{"m":"mediumorchid","c":"Y4 WH","r":0.05},
{"m":"grey","c":"DN G15","r":0.35,"s":"*"},{"m":"grey","c":"DN G5","r":-0.05},{"m":"grey","c":"DN H","r":0},{"m":"grey","c":"DN JJ","r":0.05},{"m":"grey","c":"DN WH","r":-0.05},
{"m":"grey","c":"HF G15","r":0.35,"s":"*"},{"m":"grey","c":"HF G5","r":0},{"m":"grey","c":"HF H","r":0},{"m":"grey","c":"HF JJ","r":0.05},{"m":"grey","c":"HF WH","r":-0.05},
{"m":"grey","c":"HN G15","r":-0.15},{"m":"grey","c":"HN G5","r":0},{"m":"grey","c":"HN H","r":0.05},{"m":"grey","c":"HN JJ","r":-0.2},{"m":"grey","c":"HN WH","r":0},
{"m":"grey","c":"NF G15","r":0.35},{"m":"grey","c":"NF G5","r":0},{"m":"grey","c":"NF H","r":-0.05},{"m":"grey","c":"NF JJ","r":-0.05},{"m":"grey","c":"NF WH","r":0},
{"m":"grey","c":"Y1 G15","r":-0.4,"s":"*"},{"m":"grey","c":"Y1 G5","r":0},{"m":"grey","c":"Y1 H","r":0.05},{"m":"grey","c":"Y1 JJ","r":-0.35,"s":"*"},{"m":"grey","c":"Y1 WH","r":0},
{"m":"grey","c":"Y2 G15","r":-0.15},{"m":"grey","c":"Y2 G5","r":0.1},{"m":"grey","c":"Y2 H","r":0},{"m":"grey","c":"Y2 JJ","r":0.2},{"m":"grey","c":"Y2 WH","r":0.05},
{"m":"grey","c":"Y3 G15","r":0},{"m":"grey","c":"Y3 G5","r":0.1},{"m":"grey","c":"Y3 H","r":0.2},{"m":"grey","c":"Y3 JJ","r":-0.2},{"m":"grey","c":"Y3 WH","r":-0.15},
{"m":"grey","c":"Y4 G15","r":0},{"m":"grey","c":"Y4 G5","r":0.1},{"m":"grey","c":"Y4 H","r":0},{"m":"grey","c":"Y4 JJ","r":0.35},{"m":"grey","c":"Y4 WH","r":0.1}
]},
"resolve":{"scale":{"color":"independent","fill":"independent"},"legend":{"color":"independent"}},
"bounds":"flush",
"spacing":5,
"hconcat":[
{"width":19,"height":272,"data":{"name":"modules"},
"layer":[
{"mark":{"type":"rect"},
"encoding":{
"y":{"field":"m","type":"nominal","scale":{"domain":["orange","plum3","darkolivegreen4","coral2","greenyellow","antiquewhite2","darkmagenta","darkturquoise","midnightblue","coral","lightpink3","lightsteelblue","blue2","lightsteelblue1","firebrick4","brown2","darkseagreen3","darkslateblue","darkolivegreen2","floralwhite","darkgreen","mediumorchid","grey"],"paddingInner":0.06,"paddingOuter":0.03},
"axis":{"title":null,"ticks":false,"domain":false,"labelFontSize":8,"labelPadding":6,"labelColor":"#000","labelExpr":"'ME' + datum.value"}},
"x":{"datum":0,"type":"quantitative","scale":{"domain":[0,1]},"axis":null},
"x2":{"datum":1},
"fill":{"field":"m","type":"nominal","legend":null,"scale":{"domain":["orange","plum3","darkolivegreen4","coral2","greenyellow","antiquewhite2","darkmagenta","darkturquoise","midnightblue","coral","lightpink3","lightsteelblue","blue2","lightsteelblue1","firebrick4","brown2","darkseagreen3","darkslateblue","darkolivegreen2","floralwhite","darkgreen","mediumorchid","grey"],"range":["#FFA500","#CD96CD","#6E8B3D","#EE6A50","#ADFF2F","#EEDFCC","#8B008B","#00CED1","#191970","#FF7F50","#CD8C95","#B0C4DE","#0000EE","#CAE1FF","#8B1A1A","#EE3B3B","#9BCD9B","#483D8B","#BCEE68","#FFFAF0","#006400","#BA55D3","#BEBEBE"]}}}},
{"mark":{"type":"text","fontSize":6.5},
"encoding":{"y":{"field":"m","type":"nominal"},"x":{"datum":0.5,"type":"quantitative"},"text":{"field":"n"},
"color":{"condition":{"test":"indexof(['midnightblue','darkmagenta','blue2','firebrick4','darkslateblue','darkgreen'], datum.m) >= 0","value":"#d8d8d8"},"value":"#111"}}},
{"transform":[{"filter":"datum.m === 'darkslateblue'"}],
"mark":{"type":"rect","fill":null,"stroke":"#C00000","strokeWidth":2},
"encoding":{"y":{"field":"m","type":"nominal"},"x":{"datum":-3.33,"type":"quantitative"},"x2":{"datum":-0.14}}}
]},
{"vconcat":[
{"width":398,"height":272,"data":{"name":"cells"},
"view":{"stroke":"#c8c8c8"},
"title":{"text":"Module-trait relationship","fontSize":11,"fontWeight":"bold","offset":4,"anchor":"middle","color":"#000"},
"layer":[
{"mark":{"type":"rect"},
"encoding":{
"x":{"field":"c","type":"nominal","scale":{"domain":["DN G15","DN G5","DN H","DN JJ","DN WH","HF G15","HF G5","HF H","HF JJ","HF WH","HN G15","HN G5","HN H","HN JJ","HN WH","NF G15","NF G5","NF H","NF JJ","NF WH","Y1 G15","Y1 G5","Y1 H","Y1 JJ","Y1 WH","Y2 G15","Y2 G5","Y2 H","Y2 JJ","Y2 WH","Y3 G15","Y3 G5","Y3 H","Y3 JJ","Y3 WH","Y4 G15","Y4 G5","Y4 H","Y4 JJ","Y4 WH"]},
"axis":{"title":null,"orient":"bottom","ticks":false,"domain":false,"labelAngle":90,"labelFontSize":9,"labelPadding":2,"labelColor":"#000","labelExpr":"split(datum.value, ' ')[1]"}},
"y":{"field":"m","type":"nominal","scale":{"domain":["orange","plum3","darkolivegreen4","coral2","greenyellow","antiquewhite2","darkmagenta","darkturquoise","midnightblue","coral","lightpink3","lightsteelblue","blue2","lightsteelblue1","firebrick4","brown2","darkseagreen3","darkslateblue","darkolivegreen2","floralwhite","darkgreen","mediumorchid","grey"]},"axis":null},
"color":{"field":"r","type":"quantitative","scale":{"domain":[-1,0,1],"range":["#1E88FF","#FFFFFF","#FF3300"],"interpolate":"rgb"},
"legend":{"orient":"none","legendX":407,"legendY":16,"direction":"vertical","gradientLength":239,"gradientThickness":10,"gradientStrokeColor":"#999","gradientStrokeWidth":1,"values":[-1,-0.5,0,0.5,1],"labelExpr":"'' + datum.value","labelFontSize":8,"labelColor":"#222","labelOffset":6,"title":"R","titleOrient":"right","titleAngle":90,"titlePadding":-10,"titleFontSize":10,"titleFontStyle":"italic","titleFontWeight":"bold","titleColor":"#000"}}}},
{"transform":[{"filter":"datum.s"}],
"mark":{"type":"text","fontSize":10,"dy":3,"color":"#1a1a4a"},
"encoding":{"x":{"field":"c","type":"nominal"},"y":{"field":"m","type":"nominal"},"text":{"field":"s"}}}
]},
{"width":398,"height":40,
"layer":[
{"data":{"name":"groups"},"mark":{"type":"rule","color":"#5B9BD5","strokeWidth":1},
"encoding":{"x":{"field":"first","type":"nominal","bandPosition":0.1,"scale":{"domain":["DN G15","DN G5","DN H","DN JJ","DN WH","HF G15","HF G5","HF H","HF JJ","HF WH","HN G15","HN G5","HN H","HN JJ","HN WH","NF G15","NF G5","NF H","NF JJ","NF WH","Y1 G15","Y1 G5","Y1 H","Y1 JJ","Y1 WH","Y2 G15","Y2 G5","Y2 H","Y2 JJ","Y2 WH","Y3 G15","Y3 G5","Y3 H","Y3 JJ","Y3 WH","Y4 G15","Y4 G5","Y4 H","Y4 JJ","Y4 WH"]},"axis":null},
"x2":{"field":"last","bandPosition":0.85},
"y":{"datum":1.33,"type":"quantitative","scale":{"domain":[0,10],"reverse":true},"axis":null}}},
{"data":{"name":"groups"},"mark":{"type":"rule","color":"#5B9BD5","strokeWidth":1},
"encoding":{"x":{"field":"first","type":"nominal","bandPosition":0.1},"y":{"datum":0.83,"type":"quantitative"},"y2":{"datum":1.33}}},
{"data":{"name":"groups"},"mark":{"type":"rule","color":"#5B9BD5","strokeWidth":1},
"encoding":{"x":{"field":"last","type":"nominal","bandPosition":0.85},"y":{"datum":0.83,"type":"quantitative"},"y2":{"datum":1.33}}},
{"data":{"name":"groups"},"mark":{"type":"text","fontSize":9,"fontWeight":"bold","color":"#000","baseline":"middle"},
"encoding":{"x":{"field":"mid","type":"nominal","bandPosition":0.5},"y":{"datum":2.63,"type":"quantitative"},"text":{"field":"g"}}},
{"data":{"name":"species"},"mark":{"type":"rule","color":"#5B9BD5","strokeWidth":1},
"encoding":{"x":{"field":"first","type":"nominal","bandPosition":0.5},"x2":{"field":"last","bandPosition":0.5},"y":{"datum":5,"type":"quantitative"}}},
{"data":{"name":"species"},"mark":{"type":"rule","color":"#5B9BD5","strokeWidth":1},
"encoding":{"x":{"field":"first","type":"nominal","bandPosition":0.5},"y":{"datum":3.75,"type":"quantitative"},"y2":{"datum":5}}},
{"data":{"name":"species"},"mark":{"type":"rule","color":"#5B9BD5","strokeWidth":1},
"encoding":{"x":{"field":"last","type":"nominal","bandPosition":0.5},"y":{"datum":3.75,"type":"quantitative"},"y2":{"datum":5}}},
{"data":{"name":"species"},"mark":{"type":"rule","color":"#5B9BD5","strokeWidth":1},
"encoding":{"x":{"field":"mid","type":"nominal","bandPosition":0},"y":{"datum":5,"type":"quantitative"},"y2":{"datum":5.75}}},
{"data":{"name":"species"},"mark":{"type":"text","fontSize":10,"fontWeight":"bold","fontStyle":"italic","color":"#000","baseline":"middle"},
"encoding":{"x":{"field":"mid","type":"nominal","bandPosition":0},"y":{"datum":7.75,"type":"quantitative"},"text":{"field":"sp"}}}
]}
],"spacing":16,"bounds":"flush","resolve":{"legend":{"color":"independent"}}}
]
}
